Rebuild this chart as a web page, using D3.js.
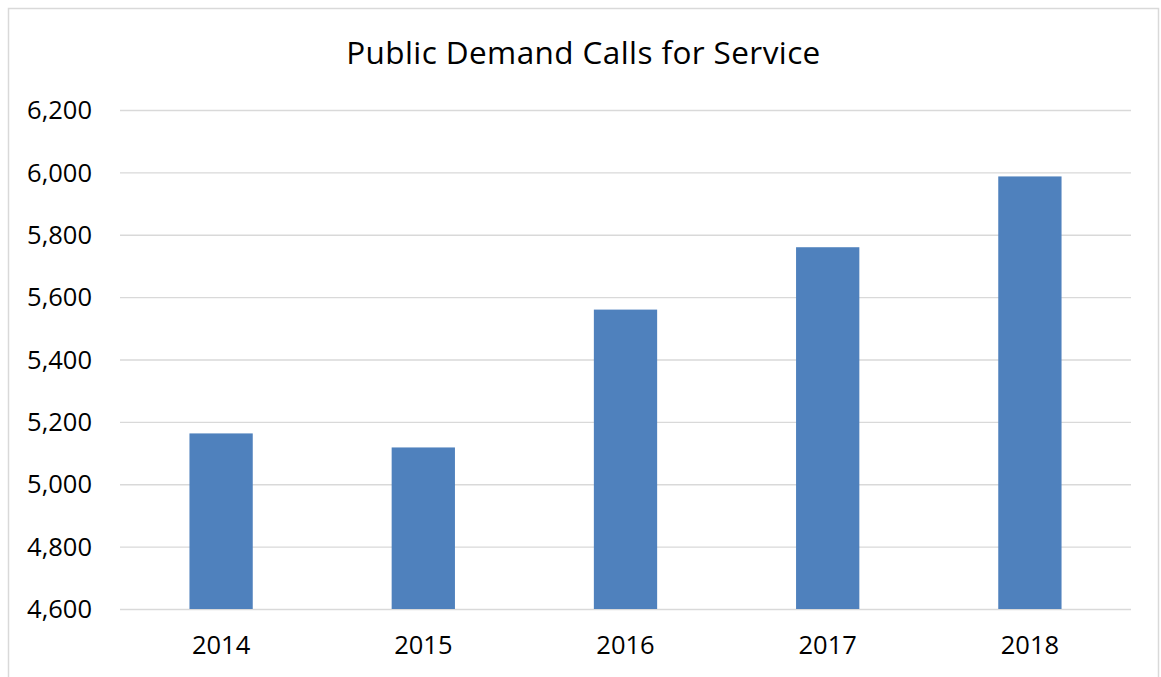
<!DOCTYPE html>
<html>
<head>
<meta charset="utf-8">
<script src="https://cdn.jsdelivr.net/npm/d3@7"></script>
<style>
  html, body { margin: 0; padding: 0; background: #fff; }
  svg { display: block; }
  text { font-family: "Open Sans", "Noto Sans", sans-serif; fill: #000; }
</style>
</head>
<body>
<svg id="chart" width="1161" height="677"></svg>
<script>
// Yearly calls for service
const years = ["2014", "2015", "2016", "2017", "2018"];
const calls = [5163, 5118, 5560, 5760, 5987];
const yTicks = [4600, 4800, 5000, 5200, 5400, 5600, 5800, 6000, 6200];
const title = "Public Demand Calls for Service";

const W = 1161, H = 677;
const plot = { left: 120, right: 1131, top: 110, bottom: 609 };

const svg = d3.select("#chart");

// chart frame (bottom edge runs past the canvas)
svg.append("rect")
  .attr("x", 8.5).attr("y", 8.5)
  .attr("width", 1150).attr("height", 700)
  .attr("fill", "#fff")
  .attr("stroke", "#d9d9d9")
  .attr("stroke-width", 1.5);

const x = d3.scaleBand()
  .domain(years)
  .range([plot.left, plot.right])
  .paddingInner(0.687)
  .paddingOuter(0.3435);

const y = d3.scaleLinear()
  .domain([4600, 6200])
  .range([plot.bottom, plot.top]);

// horizontal gridlines
const yAxis = d3.axisLeft(y)
  .tickValues(yTicks)
  .tickSize(-(plot.right - plot.left))
  .tickPadding(28)
  .tickFormat(d3.format(","));

const gy = svg.append("g")
  .attr("transform", `translate(${plot.left},0)`)
  .call(yAxis);
gy.select(".domain").remove();
gy.selectAll(".tick line")
  .attr("stroke", "#d9d9d9")
  .attr("stroke-width", 1.4);
gy.selectAll(".tick text")
  .attr("font-size", 25.5)
  .attr("fill", "#000")
  .attr("dy", "0.34em");

// bars
svg.append("g")
  .selectAll("rect")
  .data(years.map((yr, i) => ({ yr, v: calls[i] })))
  .join("rect")
  .attr("x", d => x(d.yr))
  .attr("width", x.bandwidth())
  .attr("y", d => y(d.v))
  .attr("height", d => y(4600) - y(d.v))
  .attr("fill", "#4f81bd");

// category axis
const xAxis = d3.axisBottom(x).tickSize(0).tickPadding(27);
const gx = svg.append("g")
  .attr("transform", `translate(0,${plot.bottom})`)
  .call(xAxis);
gx.select(".domain").remove();
gx.selectAll(".tick text")
  .attr("font-size", 25.5)
  .attr("fill", "#000");

// title
svg.append("text")
  .attr("x", 583.5)
  .attr("y", 64)
  .attr("text-anchor", "middle")
  .attr("font-size", 31.5)
  .attr("letter-spacing", 0.4)
  .text(title);
</script>
</body>
</html>
